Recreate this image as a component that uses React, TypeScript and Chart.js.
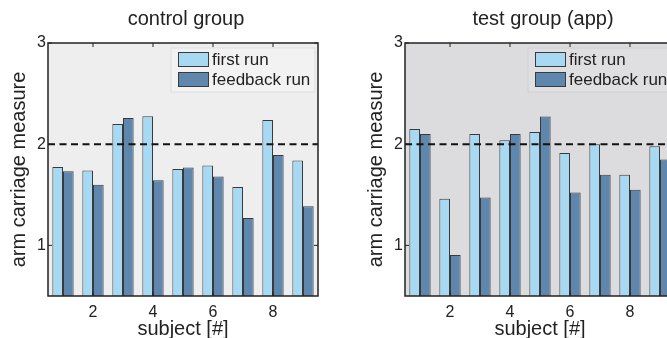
import React, { useEffect, useRef } from 'react';
import { Chart, registerables } from 'chart.js';

Chart.register(...registerables);

// ---- data ----
const subjects = ['1', '2', '3', '4', '5', '6', '7', '8', '9'];
const xTickLabels = ['2', '4', '6', '8'];
const yTickValues = [1, 2, 3];
const yMin = 0.5;
const yMax = 3;
const referenceLevel = 2;
const seriesNames = ['first run', 'feedback run'];
const panelTitles = ['control group', 'test group (app)'];
const xAxisTitle = 'subject [#]';
const yAxisTitle = 'arm carriage measure';

const controlFirstRun = [1.775, 1.74, 2.2, 2.275, 1.755, 1.79, 1.578, 2.24, 1.838];
const controlFeedbackRun = [1.733, 1.6, 2.26, 1.645, 1.77, 1.68, 1.27, 1.893, 1.388];
const testFirstRun = [2.15, 1.46, 2.1, 2.04, 2.12, 1.913, 2.0, 1.697, 1.98];
const testFeedbackRun = [2.1, 0.905, 1.473, 2.1, 2.273, 1.523, 1.697, 1.55, 1.85];

// ---- styles ----
const FONT = '"Liberation Sans", Arial, Helvetica, sans-serif';
const TEXT = '#222222';
const LIGHT = '#a8d9f3';
const DARK = '#5f87ad';
const EDGE = '#3a3a3a';

const panelPlugin = {
  id: 'panelDecor',
  beforeDraw(chart: any, _args: any, opts: any) {
    const { ctx, chartArea: a } = chart;
    ctx.save();
    ctx.fillStyle = opts.bg;
    ctx.fillRect(a.left, a.top, a.right - a.left, a.bottom - a.top);
    ctx.restore();
  },
  afterDatasetsDraw(chart: any, _args: any, opts: any) {
    const { ctx, chartArea: a, scales } = chart;
    const xs = scales.x;
    const ys = scales.y;
    ctx.save();
    // reference dashed line
    const yRef = ys.getPixelForValue(referenceLevel);
    ctx.strokeStyle = '#111111';
    ctx.lineWidth = 2;
    ctx.setLineDash([7, 4.5]);
    ctx.beginPath();
    ctx.moveTo(a.left, yRef);
    ctx.lineTo(a.right, yRef);
    ctx.stroke();
    ctx.setLineDash([]);

    // box
    ctx.strokeStyle = '#222222';
    ctx.lineWidth = 1.5;
    ctx.strokeRect(a.left, a.top, a.right - a.left, a.bottom - a.top);

    // inward ticks
    ctx.lineWidth = 1;
    ctx.beginPath();
    xTickLabels.forEach((lab) => {
      const px = xs.getPixelForValue(subjects.indexOf(lab));
      ctx.moveTo(px, a.top);
      ctx.lineTo(px, a.top + 4);
      ctx.moveTo(px, a.bottom);
      ctx.lineTo(px, a.bottom - 4);
    });
    yTickValues.forEach((v) => {
      const py = ys.getPixelForValue(v);
      ctx.moveTo(a.left, py);
      ctx.lineTo(a.left + 4, py);
      ctx.moveTo(a.right, py);
      ctx.lineTo(a.right - 4, py);
    });
    ctx.stroke();

    // legend
    const lx = a.right - 140;
    ctx.fillStyle = opts.legendBg;
    ctx.fillRect(a.right - 147, a.top + 5, 144, 44);
    ctx.strokeStyle = opts.legendBorder;
    ctx.lineWidth = 1;
    ctx.strokeRect(a.right - 147, a.top + 5, 144, 44);
    chart.data.datasets.forEach((ds: any, i: number) => {
      const top = a.top + 9 + i * 20;
      ctx.fillStyle = ds.backgroundColor;
      ctx.fillRect(lx, top, 31, 15);
      ctx.strokeStyle = EDGE;
      ctx.lineWidth = 1;
      ctx.strokeRect(lx + 0.5, top + 0.5, 30, 14);
      ctx.fillStyle = TEXT;
      ctx.font = `17px ${FONT}`;
      ctx.textBaseline = 'middle';
      ctx.textAlign = 'left';
      ctx.fillText(ds.label, lx + 34, top + 8);
    });
    ctx.restore();
  },
};

type PanelProps = {
  title: string;
  first: number[];
  feedback: number[];
  bg: string;
  legendBg: string;
  legendBorder: string;
  left: number;
};

function Panel({ title, first, feedback, bg, legendBg, legendBorder, left }: PanelProps) {
  const ref = useRef<HTMLCanvasElement>(null);
  useEffect(() => {
    if (!ref.current) return;
    const tickFont = { family: FONT, size: 16 };
    const titleFont = { family: FONT, size: 20, weight: 'normal' as const };
    const chart = new Chart(ref.current, {
      type: 'bar',
      data: {
        labels: subjects,
        datasets: [
          { label: seriesNames[0], data: first, backgroundColor: LIGHT, borderColor: EDGE, borderWidth: 1, base: yMin } as any,
          { label: seriesNames[1], data: feedback, backgroundColor: DARK, borderColor: EDGE, borderWidth: 1, base: yMin } as any,
        ],
      },
      options: {
        animation: false,
        responsive: false,
        maintainAspectRatio: false,
        layout: { padding: 0 },
        datasets: { bar: { categoryPercentage: 0.71, barPercentage: 1 } },
        plugins: {
          legend: { display: false },
          tooltip: { enabled: false },
          title: {
            display: true,
            text: title,
            font: titleFont,
            color: TEXT,
            padding: { top: 7, bottom: 12 },
          },
          panelDecor: { bg, legendBg, legendBorder },
        } as any,
        scales: {
          x: {
            type: 'category',
            offset: true,
            grid: { display: false, drawTicks: false },
            border: { display: false },
            ticks: {
              autoSkip: false,
              maxRotation: 0,
              padding: 7,
              font: tickFont,
              color: TEXT,
              callback: (_v: any, i: number) => (xTickLabels.includes(subjects[i]) ? subjects[i] : ''),
            },
            title: { display: true, text: xAxisTitle, font: titleFont, color: TEXT, padding: { top: 0, bottom: 9 } },
            afterFit: (s: any) => {
              s.height = 54;
            },
          },
          y: {
            type: 'linear',
            min: yMin,
            max: yMax,
            afterBuildTicks: (s: any) => {
              s.ticks = yTickValues.map((v) => ({ value: v }));
            },
            grid: { display: false, drawTicks: false },
            border: { display: false },
            ticks: { padding: 2, font: tickFont, color: TEXT },
            title: { display: true, text: yAxisTitle, font: titleFont, color: TEXT, padding: { top: 7.5, bottom: 0 } },
            afterFit: (s: any) => {
              s.width = 48;
            },
          },
          y2: {
            type: 'linear',
            position: 'right',
            min: yMin,
            max: yMax,
            grid: { display: false, drawTicks: false },
            border: { display: false },
            ticks: { display: false },
            afterFit: (s: any) => {
              s.width = 54;
            },
          },
        } as any,
      },
      plugins: [panelPlugin as any],
    });
    return () => chart.destroy();
  }, []);
  return (
    <div style={{ position: 'absolute', left, top: 0, width: 372, height: 350 }}>
      <canvas ref={ref} width={372} height={350} style={{ width: 372, height: 350, display: 'block' }} />
    </div>
  );
}

export default function App() {
  return (
    <div
      style={{
        position: 'fixed',
        left: 0,
        top: 0,
        width: 667,
        height: 338,
        overflow: 'hidden',
        background: '#ffffff',
      }}
    >
      <Panel
        title={panelTitles[0]}
        first={controlFirstRun}
        feedback={controlFeedbackRun}
        bg="#eeeeee"
        legendBg="#f2f2f2"
        legendBorder="#dedede"
        left={0}
      />
      <Panel
        title={panelTitles[1]}
        first={testFirstRun}
        feedback={testFeedbackRun}
        bg="#dcdcde"
        legendBg="#dfdfe1"
        legendBorder="#cfcfd1"
        left={357}
      />
    </div>
  );
}
